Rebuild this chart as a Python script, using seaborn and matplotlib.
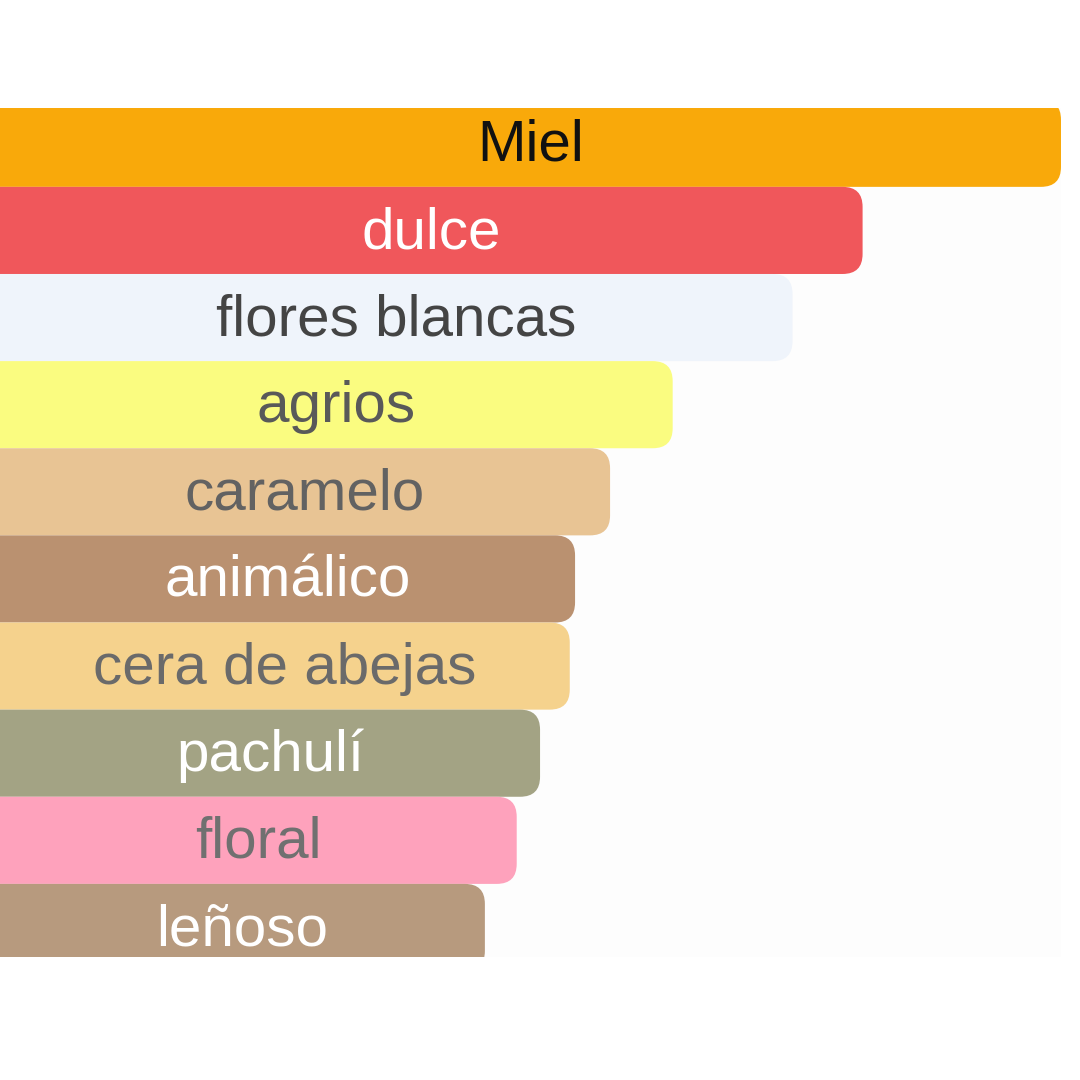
import matplotlib
matplotlib.use("Agg")
import matplotlib.pyplot as plt
from matplotlib.patches import FancyBboxPatch
import seaborn as sns


accords = ["Miel", "dulce", "flores blancas", "agrios", "caramelo",
           "animálico", "cera de abejas", "pachulí", "floral", "leñoso"]
strength = [100, 81.3, 74.7, 63.4, 57.5, 54.2, 53.7, 50.9, 48.7, 45.7]
bar_colors = ["#F9A90A", "#F0575B", "#EFF4FB", "#FAFC80", "#E8C494",
              "#BA9170", "#F5D28D", "#A3A384", "#FEA2BC", "#B79A7E"]
text_colors = ["#111111", "#FFFFFF", "#444444", "#595959", "#626262",
               "#FFFFFF", "#6A6A6A", "#FFFFFF", "#707070", "#FFFFFF"]

sns.set_theme(style="white")
plt.rcParams['font.family'] = ['Liberation Sans', 'DejaVu Sans']

fig = plt.figure(figsize=(10.8, 10.8), dpi=100)
fig.patch.set_facecolor("white")
ax = fig.add_axes([0, 1 - 957 / 1080, 1061 / 1080, (957 - 108) / 1080])
ax.set_facecolor("#FDFDFD")

sns.barplot(x=strength, y=accords, hue=accords, palette=bar_colors,
            saturation=1, orient="h", width=1.0, legend=False, ax=ax)

ax.set_xlim(0, 100)
ax.set_ylim(9.339, -0.405)

# swap the square bars for ones with rounded right ends
ax_w_px = 1061
ax_h_px = 957 - 108
x_per_px = 100 / ax_w_px
y_per_px = (9.339 + 0.405) / ax_h_px
radius = 20 * x_per_px
bars = list(ax.patches)
for p in bars:
    x, y, w, h = p.get_x(), p.get_y(), p.get_width(), p.get_height()
    if h == 0 or w != w:
        continue
    fc = p.get_facecolor()
    p.remove()
    rb = FancyBboxPatch((x - 5, y), w + 5, h,
                        boxstyle=f"round,pad=0,rounding_size={radius}",
                        mutation_aspect=y_per_px / x_per_px,
                        fc=fc, lw=0, antialiased=True)
    ax.add_patch(rb)

for i, (lab, val) in enumerate(zip(accords, strength)):
    ax.text(val / 2, i + 0.03, lab, ha="center", va="center",
            fontsize=42, color=text_colors[i])

ax.set_xlabel("")
ax.set_ylabel("")
ax.set_xticks([])
ax.set_yticks([])
for s in ax.spines.values():
    s.set_visible(False)

fig.savefig("out.png", dpi=100, facecolor="white")
